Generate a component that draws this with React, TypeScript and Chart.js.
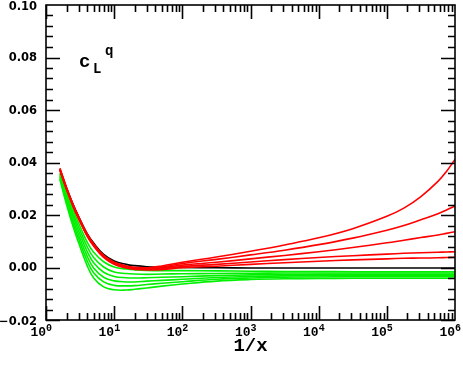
import React, { useEffect, useRef } from 'react';
import { Chart, registerables } from 'chart.js';
Chart.register(...registerables);

// 1/x sample positions
const xValues = [1.6, 2, 2.5, 3, 4, 5, 7, 10, 15, 20, 30, 50, 100, 316, 1e3, 3162, 1e4, 31623, 1e5, 177828, 316228, 562341, 749894, 1e6];

const red1 = [0.0378, 0.0305, 0.0240, 0.0194, 0.0128, 0.0090, 0.0046, 0.0020, 0.0006, 0.0001, -0.0001, 0.0006, 0.0020, 0.0040, 0.0062, 0.0086, 0.0113, 0.0148, 0.0195, 0.0226, 0.0270, 0.0328, 0.0366, 0.0412];
const red2 = [0.0376, 0.0303, 0.0238, 0.0192, 0.0126, 0.0088, 0.0044, 0.0018, 0.0004, -0.0001, -0.0003, 0.0002, 0.0015, 0.0031, 0.0048, 0.0066, 0.0087, 0.0112, 0.0142, 0.0160, 0.0182, 0.0205, 0.0219, 0.0234];
const red3 = [0.0374, 0.0301, 0.0236, 0.0190, 0.0124, 0.0086, 0.0042, 0.0016, 0.0002, -0.0003, -0.0005, -0.0002, 0.0009, 0.0020, 0.0033, 0.0046, 0.0060, 0.0076, 0.0094, 0.0104, 0.0114, 0.0124, 0.0130, 0.0136];
const red4 = [0.0372, 0.0299, 0.0234, 0.0188, 0.0122, 0.0084, 0.0040, 0.0014, 0.0000, -0.0005, -0.0007, -0.0005, 0.0004, 0.0012, 0.0021, 0.0030, 0.0038, 0.0045, 0.0051, 0.0054, 0.0056, 0.0058, 0.0059, 0.0060];
const red5 = [0.0370, 0.0297, 0.0232, 0.0186, 0.0120, 0.0082, 0.0038, 0.0012, -0.0002, -0.0007, -0.0009, -0.0008, -0.0001, 0.0005, 0.0012, 0.0018, 0.0024, 0.0029, 0.0033, 0.0035, 0.0036, 0.0037, 0.0038, 0.0039];

const black1 = [0.0372, 0.0303, 0.0240, 0.0195, 0.0130, 0.0093, 0.0050, 0.0025, 0.0012, 0.0007, 0.0003, 0.0001, 0.0000, -0.0001, -0.0002, -0.0002, -0.0002, -0.0002, -0.0002, -0.0002, -0.0002, -0.0002, -0.0002, -0.0002];

const green1 = [0.0360, 0.0290, 0.0220, 0.0170, 0.0098, 0.0058, 0.0022, 0.0002, -0.0006, -0.0009, -0.0011, -0.0012, -0.0012, -0.0013, -0.0014, -0.0015, -0.0015, -0.0016, -0.0016, -0.0016, -0.0016, -0.0016, -0.0016, -0.0016];
const green2 = [0.0355, 0.0280, 0.0207, 0.0155, 0.0080, 0.0038, 0.0002, -0.0017, -0.0023, -0.0025, -0.0026, -0.0025, -0.0024, -0.0023, -0.0022, -0.0021, -0.0021, -0.0021, -0.0021, -0.0021, -0.0021, -0.0021, -0.0021, -0.0021];
const green3 = [0.0350, 0.0270, 0.0194, 0.0140, 0.0062, 0.0018, -0.0018, -0.0034, -0.0039, -0.0040, -0.0039, -0.0037, -0.0035, -0.0031, -0.0028, -0.0027, -0.0026, -0.0026, -0.0026, -0.0026, -0.0026, -0.0026, -0.0026, -0.0026];
const green4 = [0.0345, 0.0260, 0.0181, 0.0125, 0.0044, -0.0002, -0.0037, -0.0051, -0.0055, -0.0055, -0.0052, -0.0049, -0.0045, -0.0038, -0.0034, -0.0032, -0.0031, -0.0030, -0.0030, -0.0030, -0.0030, -0.0030, -0.0030, -0.0030];
const green5 = [0.0340, 0.0250, 0.0168, 0.0110, 0.0026, -0.0020, -0.0055, -0.0068, -0.0070, -0.0069, -0.0065, -0.0060, -0.0054, -0.0045, -0.0040, -0.0037, -0.0036, -0.0035, -0.0035, -0.0035, -0.0035, -0.0035, -0.0035, -0.0035];
const green6 = [0.0335, 0.0240, 0.0155, 0.0095, 0.0008, -0.0040, -0.0074, -0.0085, -0.0086, -0.0083, -0.0078, -0.0071, -0.0063, -0.0052, -0.0046, -0.0043, -0.0042, -0.0041, -0.0041, -0.0041, -0.0041, -0.0041, -0.0041, -0.0041];

const redSeries = [red1, red2, red3, red4, red5];
const blackSeries = [black1];
const greenSeries = [green1, green2, green3, green4, green5, green6];

const yTickValues = [-0.02, 0, 0.02, 0.04, 0.06, 0.08, 0.10];
const yTickLabels = ['\u22120.02', '0.00', '0.02', '0.04', '0.06', '0.08', '0.10'];
const yMinorPerMajor = 5;
const xTickValues = [1, 10, 100, 1e3, 1e4, 1e5, 1e6];
const xTickBase = '10';
const xTickExponents = ['0', '1', '2', '3', '4', '5', '6'];
const xAxisTitle = '1/x';
const panelLabel = { main: 'c', sub: 'L', sup: 'q' };

const toPoints = (ys: number[]) => xValues.map((x, i) => ({ x, y: ys[i] }));

const decorPlugin = {
  id: 'decor',
  afterDraw(chart: any) {
    const ctx = chart.ctx as CanvasRenderingContext2D;
    const a = chart.chartArea;
    const xs = chart.scales.x;
    const ys = chart.scales.y;
    ctx.save();
    ctx.strokeStyle = '#000';
    ctx.fillStyle = '#000';
    ctx.lineWidth = 1.6;
    ctx.strokeRect(a.left, a.top, a.right - a.left, a.bottom - a.top);
    const major = 14;
    const minor = 7;
    ctx.beginPath();
    for (let d = 0; d < xTickValues.length - 1; d++) {
      for (let k = 1; k <= 9; k++) {
        const v = xTickValues[d] * k;
        const px = Math.round(xs.getPixelForValue(v)) + 0.5;
        const len = k === 1 ? major : minor;
        ctx.moveTo(px, a.bottom); ctx.lineTo(px, a.bottom - len);
        ctx.moveTo(px, a.top); ctx.lineTo(px, a.top + len);
      }
    }
    for (let i = 0; i < yTickValues.length - 1; i++) {
      const step = (yTickValues[i + 1] - yTickValues[i]) / yMinorPerMajor;
      for (let k = 0; k < yMinorPerMajor; k++) {
        const v = yTickValues[i] + k * step;
        const py = Math.round(ys.getPixelForValue(v)) + 0.5;
        const len = k === 0 ? major : minor;
        ctx.moveTo(a.left, py); ctx.lineTo(a.left + len, py);
        ctx.moveTo(a.right, py); ctx.lineTo(a.right - len, py);
      }
    }
    ctx.stroke();

    // y labels
    ctx.font = 'bold 11.5px "DejaVu Sans"';
    ctx.textAlign = 'right';
    ctx.textBaseline = 'middle';
    yTickValues.forEach((v, i) => {
      const py = ys.getPixelForValue(v);
      const dy = i === 0 ? 2 : (i === yTickValues.length - 1 ? 2 : 1);
      ctx.fillText(yTickLabels[i], a.left - 9, py + dy);
    });

    // x labels
    ctx.textBaseline = 'alphabetic';
    xTickValues.forEach((v, i) => {
      const px = xs.getPixelForValue(v);
      ctx.font = 'bold 13px "Liberation Mono"';
      ctx.textAlign = 'right';
      ctx.fillText(xTickBase, px, 336);
      ctx.font = 'bold 10px "Liberation Mono"';
      ctx.textAlign = 'left';
      ctx.fillText(xTickExponents[i], px, 331);
    });

    // axis title
    ctx.font = 'bold 19px "Liberation Mono"';
    ctx.textAlign = 'center';
    ctx.fillText(xAxisTitle, (a.left + a.right) / 2, 351);

    // panel label
    ctx.textAlign = 'left';
    ctx.font = 'bold 19px "Liberation Mono"';
    ctx.fillText(panelLabel.main, 79, 67);
    ctx.font = 'bold 14px "Liberation Mono"';
    ctx.fillText(panelLabel.sub, 93, 73);
    ctx.fillText(panelLabel.sup, 105, 55);
    ctx.restore();
  },
};

export default function App() {
  const ref = useRef<HTMLCanvasElement | null>(null);
  useEffect(() => {
    if (!ref.current) return;
    const mk = (data: number[], color: string, order: number) => ({
      data: toPoints(data),
      borderColor: color,
      backgroundColor: color,
      borderWidth: 1.6,
      pointRadius: 0,
      fill: false,
      tension: 0.4,
      order,
    });
    const datasets = [
      ...redSeries.map((s) => mk(s, '#ff0000', 0)),
      ...blackSeries.map((s) => mk(s, '#000000', 1)),
      ...greenSeries.map((s) => mk(s, '#00f000', 2)),
    ];
    const chart = new Chart(ref.current, {
      type: 'line',
      data: { datasets },
      options: {
        animation: false,
        responsive: false,
        devicePixelRatio: 1,
        layout: { padding: { top: 5, right: 8, left: 0, bottom: 0 } },
        plugins: { legend: { display: false }, tooltip: { enabled: false } },
        scales: {
          x: {
            type: 'logarithmic',
            min: 1,
            max: 1e6,
            ticks: { display: false },
            grid: { display: false, drawTicks: false },
            border: { display: false },
            afterFit: (s: any) => { s.height = 46; },
          },
          y: {
            type: 'linear',
            min: -0.02,
            max: 0.1,
            ticks: { display: false },
            grid: { display: false, drawTicks: false },
            border: { display: false },
            afterFit: (s: any) => { s.width = 46; },
          },
        },
      },
      plugins: [decorPlugin],
    });
    return () => chart.destroy();
  }, []);
  return (
    <div style={{ position: 'absolute', left: 0, top: 0, width: 463, height: 366, background: '#fff' }}>
      <canvas ref={ref} width={463} height={366} style={{ display: 'block' }} />
    </div>
  );
}
